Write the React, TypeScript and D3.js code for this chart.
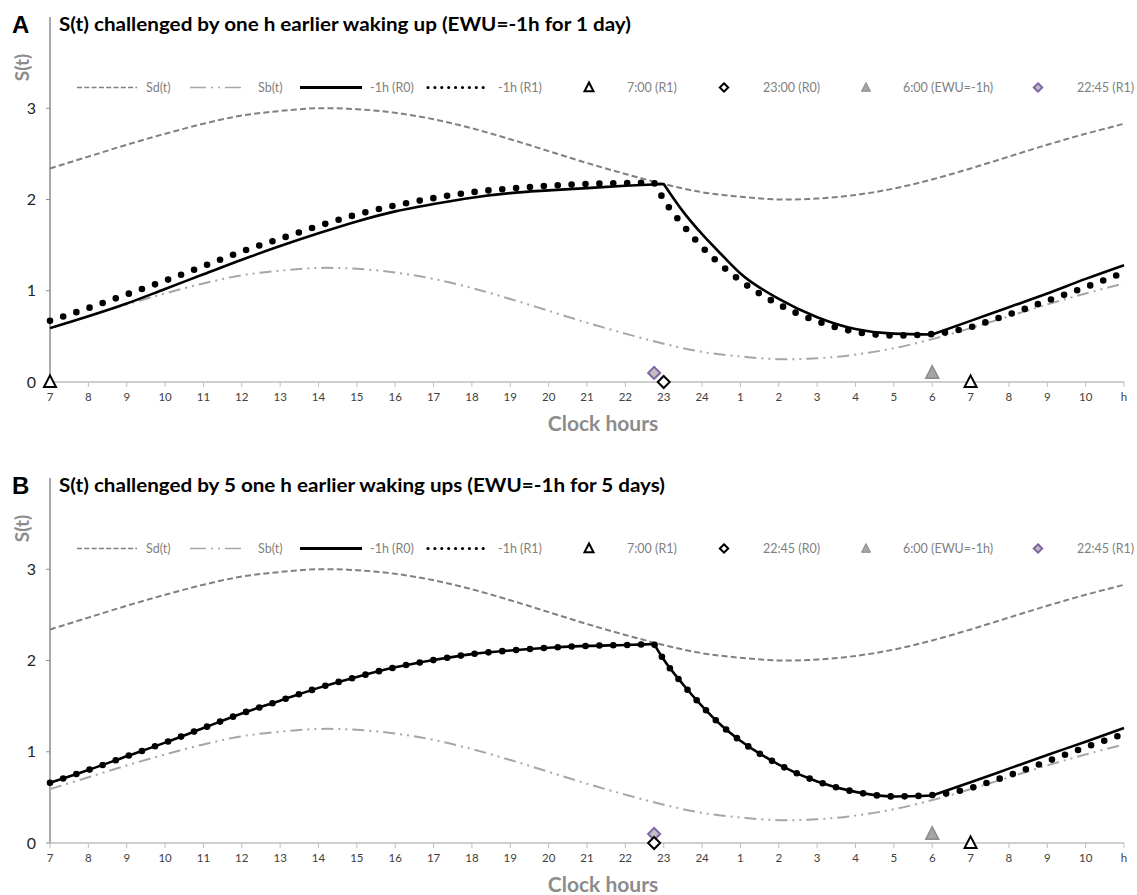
import React from "react";
import * as d3 from "d3";

// clock hours on a continuous axis (25 = 1:00 next day, 35 = "h")
const hourTicks = d3.range(7, 36);
const tickLabels = [
  "7", "8", "9", "10", "11", "12", "13", "14", "15", "16", "17", "18", "19", "20", "21", "22", "23", "24",
  "1", "2", "3", "4", "5", "6", "7", "8", "9", "10", "h",
];
const yTicks = [0, 1, 2, 3];

// circadian thresholds, read hourly 7..35
const sdValues = [
  2.34, 2.47, 2.6, 2.72, 2.83, 2.92, 2.97, 3.0, 2.99, 2.95, 2.88, 2.78, 2.66, 2.53, 2.4,
  2.28, 2.17, 2.08, 2.03, 2.0, 2.01, 2.05, 2.12, 2.22, 2.34, 2.47, 2.6, 2.72, 2.83,
];
const sbValues = [
  0.59, 0.72, 0.85, 0.97, 1.08, 1.17, 1.22, 1.25, 1.24, 1.2, 1.13, 1.03, 0.91, 0.78, 0.65,
  0.53, 0.42, 0.33, 0.28, 0.25, 0.26, 0.3, 0.37, 0.47, 0.59, 0.72, 0.85, 0.97, 1.08,
];

// S(t) curves
const hoursR0A = [
  7, 8, 9, 10, 11, 12, 13, 14, 15, 16, 17, 18, 19, 20, 21, 22,
  23, 23.5, 24, 24.5,
  25, 26, 27, 28, 29, 30, 31, 32, 33, 34, 35,
];
const r0A = [
  0.59, 0.72, 0.86, 1.02, 1.18, 1.34, 1.49, 1.63, 1.76, 1.87, 1.95, 2.02, 2.07, 2.1, 2.125, 2.15,
  2.17, 1.87, 1.62, 1.4,
  1.19, 0.91, 0.71, 0.58, 0.53, 0.52, 0.67, 0.82, 0.97, 1.13, 1.28,
];
const hoursR1 = [
  7, 8, 9, 10, 11, 12, 13, 14, 15, 16, 17, 18, 19, 20, 21, 22,
  22.75, 23, 23.5, 24, 24.5,
  25, 26, 27, 28, 29, 30, 31, 32, 33, 34, 35,
];
const r1A = [
  0.67, 0.81, 0.96, 1.11, 1.27, 1.43, 1.57, 1.71, 1.835, 1.935, 2.015, 2.08, 2.12, 2.15, 2.17, 2.18,
  2.185, 2.0, 1.72, 1.48, 1.28,
  1.11, 0.85, 0.665, 0.55, 0.51, 0.525, 0.6, 0.74, 0.89, 1.04, 1.2,
];
const r0B = [
  0.66, 0.8, 0.95, 1.1, 1.26, 1.42, 1.56, 1.7, 1.82, 1.925, 2.005, 2.07, 2.11, 2.14, 2.16, 2.17,
  2.18, 2.01, 1.74, 1.5, 1.29,
  1.12, 0.86, 0.675, 0.56, 0.51, 0.52, 0.665, 0.815, 0.965, 1.11, 1.26,
];
const r1B = [
  0.66, 0.8, 0.95, 1.1, 1.26, 1.42, 1.56, 1.7, 1.82, 1.925, 2.005, 2.07, 2.11, 2.14, 2.16, 2.17,
  2.18, 2.01, 1.74, 1.5, 1.29,
  1.12, 0.86, 0.675, 0.56, 0.51, 0.525, 0.6, 0.74, 0.895, 1.05, 1.195,
];

// sleep onset / wake times (kinks)
const breaksR0A = [23, 30];
const breaksR0B = [22.75, 30];
const breaksR1 = [22.75, 31];

// markers [hour, value]
const markersA = {
  wakeR1: [[7, 0], [31, 0]],
  sleepR0: [[23, 0]],
  wakeEwu: [[30, 0.1]],
  sleepR1: [[22.75, 0.1]],
};
const markersB = {
  wakeR1: [[31, 0]],
  sleepR0: [[22.75, 0]],
  wakeEwu: [[30, 0.1]],
  sleepR1: [[22.75, 0.1]],
};

const legendA = ["Sd(t)", "Sb(t)", "-1h (R0)", "-1h (R1)", "7:00 (R1)", "23:00 (R0)", "6:00 (EWU=-1h)", "22:45 (R1)"];
const legendB = ["Sd(t)", "Sb(t)", "-1h (R0)", "-1h (R1)", "7:00 (R1)", "22:45 (R0)", "6:00 (EWU=-1h)", "22:45 (R1)"];

const FONT = "Lato, 'Open Sans', sans-serif";

const x = d3.scaleLinear().domain([7, 35]).range([50, 1124]);

function segPath(hs, vs, breaks, y) {
  const cuts = [hs[0], ...breaks, hs[hs.length - 1]];
  let d = "";
  for (let k = 0; k < cuts.length - 1; k++) {
    const seg = hs
      .map((h, i) => [h, vs[i]])
      .filter(([h]) => h >= cuts[k] && h <= cuts[k + 1])
      .map(([h, v]) => [x(h), y(v)]);
    const s = d3.line().curve(d3.curveMonotoneX)(seg) || "";
    d += k === 0 ? s : s.replace(/^M/, "L");
  }
  return d;
}

const tri = (cx, cy, s) => `M${cx},${cy - s * 0.55}L${cx + s / 2},${cy + s * 0.42}L${cx - s / 2},${cy + s * 0.42}Z`;
const dia = (cx, cy, s) => `M${cx},${cy - s}L${cx + s},${cy}L${cx},${cy + s}L${cx - s},${cy}Z`;

function Panel({ top, letter, title, titleWidth, legend, r0, r1, hoursR0, breaksR0, markers }) {
  const y = d3.scaleLinear().domain([0, 4]).range([top + 382, top + 17]);
  const y0 = y(0);
  const sdLine = d3.line().curve(d3.curveCatmullRom)(hourTicks.map((h, i) => [x(h), y(sdValues[i])]));
  const sbLine = d3.line().curve(d3.curveCatmullRom)(hourTicks.map((h, i) => [x(h), y(sbValues[i])]));
  const legY = top + 87.5;
  const legX = [
    { a: 77, b: 137, t: 146 },
    { a: 190, b: 243, t: 258 },
    { a: 300, b: 362, t: 370 },
    { a: 428, b: 490, t: 498 },
    { a: 589, t: 627 },
    { a: 724, t: 763 },
    { a: 866, t: 903 },
    { a: 1038, t: 1077 },
  ];
  return (
    <g>
      <text x={12} y={top + 33} fontFamily="'Liberation Sans', Arial, sans-serif" fontWeight="bold" fontSize={24} fill="#000">
        {letter}
      </text>
      <text
        x={59}
        y={top + 31}
        fontFamily={FONT}
        fontWeight="bold"
        fontSize={18}
        fill="#000"
        textLength={titleWidth}
        lengthAdjust="spacingAndGlyphs"
      >
        {title}
      </text>
      <text
        transform={`translate(29,${top + 67.5}) rotate(-90)`}
        textAnchor="middle"
        fontFamily={FONT}
        fontWeight="bold"
        fontSize={19}
        fill="#8c8c8c"
      >
        S(t)
      </text>

      {/* legend */}
      <g fontFamily={FONT} fontSize={12.5} fill="#7f7f7f">
        <line x1={legX[0].a} x2={legX[0].b} y1={legY} y2={legY} stroke="#808080" strokeWidth={1.5} strokeDasharray="5 2.3" />
        <line x1={legX[1].a} x2={legX[1].b} y1={legY} y2={legY} stroke="#a6a6a6" strokeWidth={1.5} strokeDasharray="16 5 2 5 2 5" />
        <line x1={legX[2].a} x2={legX[2].b} y1={legY} y2={legY} stroke="#000" strokeWidth={3} />
        <line x1={legX[3].a} x2={legX[3].b} y1={legY} y2={legY} stroke="#000" strokeWidth={3.2} strokeLinecap="round" strokeDasharray="0 6.9" />
        <path d={tri(legX[4].a, legY, 9)} fill="#fff" stroke="#000" strokeWidth={2} />
        <path d={dia(legX[5].a, legY, 4.2)} fill="#fff" stroke="#000" strokeWidth={2} />
        <path d={tri(legX[6].a, legY, 9)} fill="#a5a5a5" stroke="#8c8c8c" strokeWidth={1} />
        <path d={dia(legX[7].a, legY, 4.2)} fill="#bfbfbf" stroke="#8064a2" strokeWidth={2} />
        {legend.map((t, i) => (
          <text key={i} x={legX[i].t} y={legY + 4.5}>
            {t}
          </text>
        ))}
      </g>

      {/* axes */}
      <line x1={50} x2={50} y1={top + 17} y2={y0} stroke="#8c8c8c" strokeWidth={1.5} />
      {yTicks.map((v) => (
        <g key={v}>
          <line x1={46} x2={50} y1={y(v)} y2={y(v)} stroke="#8c8c8c" strokeWidth={1} />
          <text x={36} y={y(v) + 5.5} textAnchor="end" fontFamily={FONT} fontSize={16} fill="#262626">
            {v}
          </text>
        </g>
      ))}
      <line x1={50} x2={1124} y1={y0} y2={y0} stroke="#bfbfbf" strokeWidth={1.5} />
      {hourTicks.map((h, i) => (
        <g key={i}>
          <line x1={x(h)} x2={x(h)} y1={y0} y2={y0 + 5} stroke="#bfbfbf" strokeWidth={1} />
          <text x={x(h)} y={y0 + 19} textAnchor="middle" fontFamily={FONT} fontSize={11.5} fill="#404040">
            {tickLabels[i]}
          </text>
        </g>
      ))}
      <text x={603} y={top + 431} textAnchor="middle" fontFamily={FONT} fontWeight="bold" fontSize={21} fill="#8c8c8c">
        Clock hours
      </text>

      {/* curves */}
      <path d={sdLine} fill="none" stroke="#808080" strokeWidth={2} strokeDasharray="6 3.2" />
      <path d={sbLine} fill="none" stroke="#a6a6a6" strokeWidth={2} strokeDasharray="12 5 2 5 2 5" />
      <path d={segPath(hoursR0, r0, breaksR0, y)} fill="none" stroke="#000" strokeWidth={2.6} strokeLinejoin="round" />
      <path
        d={segPath(hoursR1, r1, breaksR1, y)}
        fill="none"
        stroke="#000"
        strokeWidth={6.6}
        strokeLinecap="round"
        strokeDasharray="0 13.9"
      />

      {/* markers */}
      {markers.sleepR1.map(([h, v], i) => (
        <path key={"p" + i} d={dia(x(h), y(v), 6)} fill="#bfbfbf" stroke="#8064a2" strokeWidth={2} />
      ))}
      {markers.sleepR0.map(([h, v], i) => (
        <path key={"d" + i} d={dia(x(h), y(v), 6)} fill="#fff" stroke="#000" strokeWidth={2} />
      ))}
      {markers.wakeEwu.map(([h, v], i) => (
        <path key={"g" + i} d={tri(x(h), y(v), 13)} fill="#a5a5a5" stroke="#8c8c8c" strokeWidth={1.5} />
      ))}
      {markers.wakeR1.map(([h, v], i) => (
        <path key={"t" + i} d={tri(x(h), y(v), 12)} fill="#fff" stroke="#000" strokeWidth={2} />
      ))}
    </g>
  );
}

export default function App() {
  return (
    <svg width={1137} height={895} style={{ position: "absolute", left: 0, top: 0, background: "#fff" }}>
      <rect width={1137} height={895} fill="#fff" />
      <Panel
        top={0}
        letter="A"
        title="S(t) challenged by one h earlier waking up (EWU=-1h for 1 day)"
        titleWidth={572}
        legend={legendA}
        r0={r0A}
        r1={r1A}
        hoursR0={hoursR0A}
        breaksR0={breaksR0A}
        markers={markersA}
      />
      <Panel
        top={461}
        letter="B"
        title="S(t) challenged by 5 one h earlier waking ups (EWU=-1h for 5 days)"
        titleWidth={606}
        legend={legendB}
        r0={r0B}
        r1={r1B}
        hoursR0={hoursR1}
        breaksR0={breaksR0B}
        markers={markersB}
      />
    </svg>
  );
}
